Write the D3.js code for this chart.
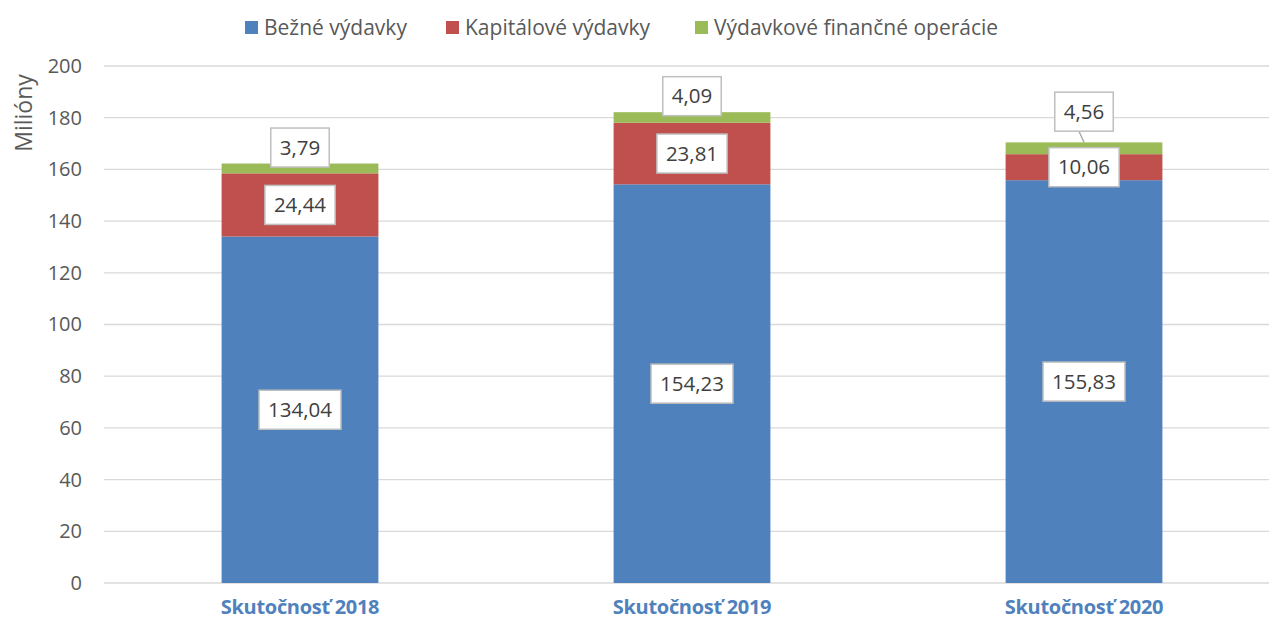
<!DOCTYPE html>
<html lang="sk">
<head>
<meta charset="UTF-8">
<title>Výdavky</title>
<script src="https://cdn.jsdelivr.net/npm/d3@7/dist/d3.min.js"></script>
<style>
  body { margin: 0; background: #fff; }
  svg { display: block; font-family: "Open Sans", sans-serif; }
</style>
</head>
<body>
<svg id="chart" width="1269" height="623"></svg>
<script>
const categories = ['Skutočnosť 2018', 'Skutočnosť 2019', 'Skutočnosť 2020'];
const seriesNames = ['Bežné výdavky', 'Kapitálové výdavky', 'Výdavkové finančné operácie'];
const bezne = [134.04, 154.23, 155.83];
const kapitalove = [24.44, 23.81, 10.06];
const financne = [3.79, 4.09, 4.56];
const yTicks = [0, 20, 40, 60, 80, 100, 120, 140, 160, 180, 200];
const colors = ['#4F81BD', '#C0504D', '#9BBB59'];

const w = 1269, h = 623;
const mLeft = 104, mRight = 1280, mTop = 66, mBottom = 583;

const rows = categories.map((c, i) => ({
  cat: c, s0: bezne[i], s1: kapitalove[i], s2: financne[i]
}));
const keys = ['s0', 's1', 's2'];
const stacked = d3.stack().keys(keys)(rows);

const x = d3.scaleBand().domain(categories).range([mLeft, mRight])
  .paddingInner(0.6).paddingOuter(0.3);
const y = d3.scaleLinear().domain([0, 200]).range([mBottom, mTop]);

const svg = d3.select('#chart');

// gridlines
svg.append('g').selectAll('line').data(yTicks).enter().append('line')
  .attr('x1', mLeft).attr('x2', w)
  .attr('y1', d => y(d)).attr('y2', d => y(d))
  .attr('stroke', '#d9d9d9').attr('stroke-width', 1.3);

// y axis labels
const yAxis = d3.axisLeft(y).tickValues(yTicks).tickSize(0).tickPadding(22);
svg.append('g').attr('transform', 'translate(' + mLeft + ',0)').call(yAxis)
  .call(g => g.select('.domain').remove())
  .call(g => g.selectAll('text').attr('fill', '#595959')
    .style('font-size', '20px').style('font-family', '"Open Sans", sans-serif'));

// y title
svg.append('text')
  .attr('transform', 'translate(32,113) rotate(-90)')
  .attr('text-anchor', 'middle')
  .attr('fill', '#595959').style('font-size', '23px')
  .text('Milióny');

// bars
svg.append('g').selectAll('g').data(stacked).enter().append('g')
  .attr('fill', (d, i) => colors[i])
  .selectAll('rect').data(d => d).enter().append('rect')
  .attr('x', d => x(d.data.cat))
  .attr('width', x.bandwidth())
  .attr('y', d => y(d[1]))
  .attr('height', d => y(d[0]) - y(d[1]));

// x axis labels
const xAxis = d3.axisBottom(x).tickSize(0).tickPadding(17);
svg.append('g').attr('transform', 'translate(0,' + mBottom + ')').call(xAxis)
  .call(g => g.select('.domain').remove())
  .call(g => g.selectAll('text').attr('fill', '#4F81BD')
    .style('font-size', '20px').style('font-weight', 'bold')
    .style('font-family', '"Open Sans", sans-serif').style('letter-spacing', '-0.3px'));

// data labels
const fmt = v => v.toFixed(2).replace('.', ',');
const boxH = 39;
const labels = svg.append('g');

function addLabel(cx, cy, v) {
  const g = labels.append('g');
  const rect = g.append('rect').attr('fill', '#fff').attr('stroke', '#bfbfbf').attr('stroke-width', 1.5);
  const t = g.append('text').attr('x', cx).attr('y', cy).attr('dy', '0.35em')
    .attr('text-anchor', 'middle').attr('fill', '#404040').style('font-size', '20.5px')
    .text(fmt(v));
  const tw = t.node().getComputedTextLength();
  rect.attr('x', cx - tw / 2 - 9).attr('y', cy - boxH / 2).attr('width', tw + 18).attr('height', boxH);
}

rows.forEach((r, i) => {
  const cx = x(r.cat) + x.bandwidth() / 2;
  const b = stacked[0][i], k = stacked[1][i], f = stacked[2][i];
  addLabel(cx, y((b[0] + b[1]) / 2), r.s0);
  const redCy = y((k[0] + k[1]) / 2);
  addLabel(cx, redCy, r.s1);
  // green label sits above the bar, pushed up if it would hit the red label
  const barTop = y(f[1]);
  const greenCy = Math.min(barTop - 16, redCy - boxH / 2 - 36);
  if (barTop - (greenCy + boxH / 2) > 4) {
    labels.append('line')
      .attr('x1', cx - 5).attr('y1', greenCy + boxH / 2)
      .attr('x2', cx).attr('y2', barTop)
      .attr('stroke', '#a6a6a6').attr('stroke-width', 1.3);
  }
  addLabel(cx, greenCy, r.s2);
});

// legend
const legendX = [245, 446, 695];
const legend = svg.append('g');
seriesNames.forEach((n, i) => {
  legend.append('rect').attr('x', legendX[i]).attr('y', 21).attr('width', 13).attr('height', 13)
    .attr('fill', colors[i]);
  legend.append('text').attr('x', legendX[i] + 19).attr('y', 28).attr('dy', '0.35em')
    .attr('fill', '#595959').style('font-size', '21px').text(n);
});
</script>
</body>
</html>
